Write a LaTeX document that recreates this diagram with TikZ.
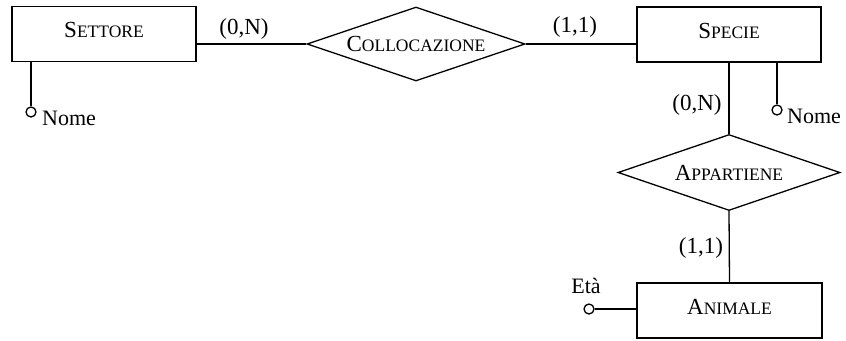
\documentclass[tikz,border=0pt]{standalone}
\usepackage{fontspec}
\setmainfont{Liberation Serif}
\usetikzlibrary{shapes.geometric}
\newcommand{\SCx}[2]{{\fontsize{23bp}{25bp}\selectfont #1\fontsize{17.5bp}{19bp}\selectfont #2}}
\tikzset{
  line/.style={line width=1.3bp},
  entity/.style={draw, line width=1.3bp, rectangle, minimum width=184bp, minimum height=55bp, inner sep=0pt, text height=15bp, text depth=8bp},
  relation/.style={draw, line width=1.3bp, diamond, inner sep=0pt},
  attr/.style={draw, line width=1.3bp, circle, minimum size=10bp, inner sep=0pt, fill=white},
  lbl/.style={font=\fontsize{22bp}{24bp}\selectfont, inner sep=0pt},
  card/.style={font=\fontsize{23bp}{25bp}\selectfont, inner sep=0pt}
}
\begin{document}
\begin{tikzpicture}[x=1bp,y=-1bp]
\useasboundingbox (0,0) rectangle (846,340);
\node[entity] (settore) at (104,34) {\SCx{S}{ETTORE}};
\node[entity] (specie) at (729,34.5) {\SCx{S}{PECIE}};
\node[entity, minimum width=185bp] (animale) at (729.5,310.5) {\SCx{A}{NIMALE}};
\node[relation, aspect=2.946, minimum width=218bp, minimum height=74bp] (colloc) at (416,44) {\SCx{C}{OLLOCAZIONE}};
\node[relation, aspect=2.92, minimum width=222bp, minimum height=76bp] (appart) at (729,172.5) {\SCx{A}{PPARTIENE}};

\draw[line] (settore.east |- colloc.west) -- (colloc.west);
\draw[line] (colloc.east) -- (specie.west |- colloc.east);
\draw[line] (specie.south) -- (appart.north);
\draw[line] (appart.south) -- (animale.north);

\node[attr] (snome) at (31,112) {};
\draw[line] (snome |- settore.south) -- (snome.north);
\node[lbl, anchor=west] (snomel) at (42,118) {Nome};

\node[attr] (spnome) at (777,110) {};
\draw[line] (spnome |- specie.south) -- (spnome.north);
\node[lbl, anchor=west] (spnomel) at (787,116) {Nome};

\node[attr] (eta) at (589,309) {};
\draw[line width=2bp] (eta.east) -- (animale.west |- eta.east);
\node[lbl] (etal) at (586,286) {Età};

\node[card] (c1) at (244,29) {(0,N)};
\node[card] (c2) at (575,27) {(1,1)};
\node[card] (c3) at (697,105) {(0,N)};
\node[card] (c4) at (701,248) {(1,1)};
\end{tikzpicture}
\end{document}
